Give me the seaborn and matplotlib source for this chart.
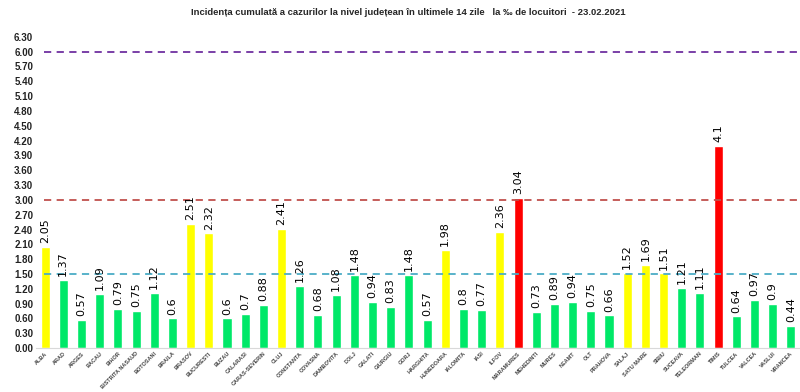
import numpy as np
import seaborn as sns
import matplotlib.pyplot as plt
import pandas as pd

judete = ['ALBA', 'ARAD', 'ARGES', 'BACAU', 'BIHOR', 'BISTRITA NASAUD', 'BOTOSANI', 'BRAILA',
          'BRASOV', 'BUCURESTI', 'BUZAU', 'CALARASI', 'CARAS-SEVERIN', 'CLUJ', 'CONSTANTA',
          'COVASNA', 'DAMBOVITA', 'DOLJ', 'GALATI', 'GIURGIU', 'GORJ', 'HARGHITA', 'HUNEDOARA',
          'IALOMITA', 'IASI', 'ILFOV', 'MARAMURES', 'MEHEDINTI', 'MURES', 'NEAMT', 'OLT',
          'PRAHOVA', 'SALAJ', 'SATU MARE', 'SIBIU', 'SUCEAVA', 'TELEORMAN', 'TIMIS', 'TULCEA',
          'VALCEA', 'VASLUI', 'VRANCEA']
incidenta = [2.05, 1.37, 0.57, 1.09, 0.79, 0.75, 1.12, 0.6, 2.51, 2.32, 0.6, 0.7, 0.88, 2.41,
             1.26, 0.68, 1.08, 1.48, 0.94, 0.83, 1.48, 0.57, 1.98, 0.8, 0.77, 2.36, 3.04, 0.73,
             0.89, 0.94, 0.75, 0.66, 1.52, 1.69, 1.51, 1.21, 1.11, 4.1, 0.64, 0.97, 0.9, 0.44]
praguri = [1.5, 3.0, 6.0]
culori_prag = ['#4bacc6', '#c0504d', '#7030a0']
y_ticks = [round(0.3 * i, 2) for i in range(22)]

df = pd.DataFrame({'judet': judete, 'valoare': incidenta})

def culoare(v):
    if v >= 3.0:
        return '#ff0000'
    if v >= 1.5:
        return '#ffff00'
    return '#00e868'

paleta = [culoare(v) for v in df['valoare']]

sns.set_style('white')
plt.rcParams['font.family'] = ['Liberation Sans', 'DejaVu Sans']

fig = plt.figure(figsize=(8, 3.92), dpi=100)
ax = fig.add_axes([0.045, 0.112, 0.955, 0.794])

sns.barplot(data=df, x='judet', y='valoare', hue='judet', palette=paleta,
            legend=False, width=0.5, ax=ax, saturation=1)

for y, c in zip(praguri, culori_prag):
    ax.hlines(y, -0.05, 41.6, colors=c, linestyles=(0, (4, 3)), linewidth=1.3, zorder=3)

for i, v in enumerate(incidenta):
    ax.text(i, v + 0.08, f'{v:g}', rotation=90, ha='center', va='bottom',
            fontsize=8, family='DejaVu Sans', color='black')

ax.set_xlim(-0.5, 41.5)
ax.set_ylim(0, 6.3)
ax.set_yticks(y_ticks)
ax.set_yticklabels([f'{t:.2f}' for t in y_ticks], fontsize=7, fontweight='bold', color='#222222')
ax.set_xticks(range(len(judete)))
ax.set_xticklabels(judete, rotation=45, ha='right', rotation_mode='anchor',
                   fontsize=4, fontweight='bold', color='#444444')
ax.tick_params(axis='both', length=0, pad=2)
ax.set_xlabel('')
ax.set_ylabel('')
sns.despine(ax=ax, left=True, top=True, right=True)
ax.spines['bottom'].set_color('#d9d9d9')

fig.text(0.51, 0.968, 'Incidența cumulată a cazurilor la nivel județean în ultimele 14 zile   la ‰ de locuitori  - 23.02.2021',
         ha='center', va='center', fontsize=6.8, fontweight='bold')

fig.savefig('out.png', dpi=100)
